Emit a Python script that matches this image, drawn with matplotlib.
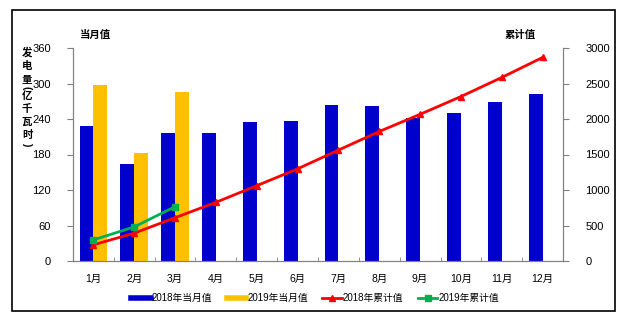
import numpy as np
import matplotlib
matplotlib.use('Agg')
import matplotlib.pyplot as plt
from matplotlib.lines import Line2D
from matplotlib.patches import Rectangle

plt.rcParams['font.family'] = ['Liberation Sans', 'Noto Sans CJK SC', 'DejaVu Sans']

months = ['1月', '2月', '3月', '4月', '5月', '6月', '7月', '8月', '9月', '10月', '11月', '12月']
month_2018 = [228, 164, 217, 216, 235, 237, 264, 262, 242, 250, 268, 282]
month_2019 = [297, 183, 286]
cum_2018 = [228, 392, 610, 826, 1061, 1298, 1562, 1824, 2066, 2316, 2585, 2867]
cum_2019 = [297, 480, 766]

blue = '#0000CC'
yellow = '#FFC000'
red = '#FF0000'
green = '#00B050'
gray = '#808080'

fig = plt.figure(figsize=(6.32, 3.23), dpi=100)
ax = fig.add_axes([73 / 632, 62 / 323, 490 / 632, 213 / 323])
ax2 = ax.twinx()

x = np.arange(len(months))
w = 0.34
ax.bar(x - w / 2, month_2018, width=w, color=blue, zorder=2)
ax.bar(x[:len(month_2019)] + w / 2, month_2019, width=w, color=yellow, zorder=2)

ax2.plot(x, cum_2018, color=red, lw=2, marker='^', ms=5, zorder=3)
ax2.plot(x[:len(cum_2019)], cum_2019, color=green, lw=2, marker='s', ms=5, zorder=4)

ax.set_zorder(ax2.get_zorder() - 1)
ax.patch.set_visible(False)

ax.set_xlim(-0.5, 11.5)
ax.set_ylim(0, 360)
ax.set_yticks(range(0, 361, 60))
ax2.set_ylim(0, 3000)
ax2.set_yticks(range(0, 3001, 500))

ax.set_xticks(x)
ax.set_xticklabels(months)
ax.set_xticks(np.arange(0.5, 11, 1), minor=True)
ax.tick_params(axis='x', which='major', length=0, pad=9, labelsize=7.5)
ax.tick_params(axis='x', which='minor', direction='in', length=3, color=gray)
ax.tick_params(axis='y', direction='out', length=4, color=gray, labelsize=8, pad=12)
ax2.tick_params(axis='y', direction='out', length=4, color=gray, labelsize=8, pad=12)

for a in (ax, ax2):
    a.spines['top'].set_visible(False)
    for s in ('left', 'right', 'bottom'):
        a.spines[s].set_color(gray)

fig.text(95 / 632, 1 - 35 / 323, '当月值', fontsize=7.5, fontweight='bold', ha='center', va='center')
fig.text(520 / 632, 1 - 35 / 323, '累计值', fontsize=7.5, fontweight='bold', ha='center', va='center')

# vertical y label, one glyph at a time
ylab = [('发', 52), ('电', 66), ('量', 80), ('(', 88), ('亿', 96), ('千', 109), ('瓦', 122), ('时', 135), (')', 144)]
for ch, yy in ylab:
    rot = -90 if ch in '()' else 0
    fig.text(27 / 632, 1 - yy / 323, ch, fontsize=7.5, fontweight='bold', ha='center', va='center', rotation=rot)

handles = [
    Line2D([0], [0], color=blue, lw=4),
    Line2D([0], [0], color=yellow, lw=4),
    Line2D([0], [0], color=red, lw=2, marker='^', ms=4),
    Line2D([0], [0], color=green, lw=2, marker='s', ms=4),
]
labels = ['2018年当月值', '2019年当月值', '2018年累计值', '2019年累计值']
fig.legend(handles, labels, loc='center', bbox_to_anchor=(315 / 632, 1 - 298 / 323), ncol=4,
           frameon=False, fontsize=7, handlelength=2.0, handletextpad=0.1, columnspacing=1.5)

fig.patches.append(Rectangle((12 / 632, 12 / 323), 603 / 632, 301 / 323, transform=fig.transFigure,
                             fill=False, edgecolor='black', lw=1.2))

fig.savefig('out.png', dpi=100)
